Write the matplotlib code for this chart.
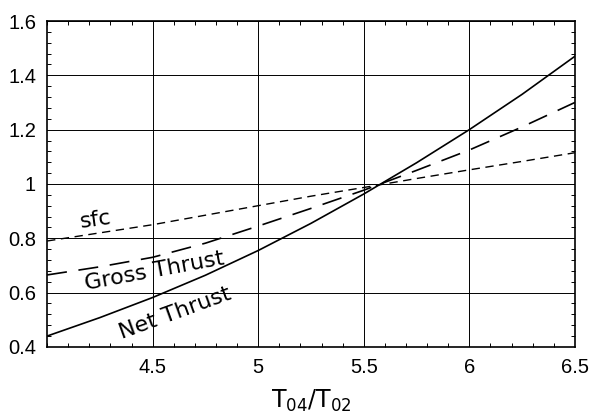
import numpy as np
import matplotlib
matplotlib.use('Agg')
import matplotlib.pyplot as plt
from matplotlib.ticker import MultipleLocator, FuncFormatter

# values
T_ratio = [4.0, 4.25, 4.5, 4.75, 5.0, 5.25, 5.5, 5.75, 6.0, 6.25, 6.5]
net_thrust = [0.44, 0.508, 0.582, 0.664, 0.755, 0.855, 0.963, 1.078, 1.2, 1.33, 1.47]
gross_thrust = [0.665, 0.695, 0.73, 0.782, 0.845, 0.91, 0.977, 1.05, 1.125, 1.21, 1.3]
sfc = [0.79, 0.82, 0.85, 0.885, 0.92, 0.955, 0.987, 1.02, 1.052, 1.083, 1.115]

xticks = [4.5, 5, 5.5, 6, 6.5]
yticks = [0.4, 0.6, 0.8, 1.0, 1.2, 1.4, 1.6]

plt.rcParams['font.family'] = ['Liberation Sans', 'DejaVu Sans']

fig = plt.figure(figsize=(5.89, 4.2), dpi=100)
ax = fig.add_axes([0.08, 0.174, 0.896, 0.776])

ax.plot(T_ratio, net_thrust, color='black', lw=1.2)
ax.plot(T_ratio, gross_thrust, color='black', lw=1.2, dashes=(12, 7))
ax.plot(T_ratio, sfc, color='black', lw=1.0, dashes=(6, 4))

ax.set_xlim(4.0, 6.5)
ax.set_ylim(0.4, 1.6)
ax.set_xticks(xticks)
ax.set_yticks(yticks)
ax.xaxis.set_minor_locator(MultipleLocator(0.1))
ax.yaxis.set_minor_locator(MultipleLocator(0.04))
fmt = FuncFormatter(lambda v, p: '%g' % round(v, 2))
ax.xaxis.set_major_formatter(fmt)
ax.yaxis.set_major_formatter(fmt)

ax.grid(True, which='major', color='black', lw=0.7)
ax.tick_params(which='both', direction='in', top=True, right=True, labelsize=14.5)
ax.tick_params(which='major', length=0, pad=8)
ax.tick_params(which='minor', length=3, width=0.7)
for s in ax.spines.values():
    s.set_linewidth(1.2)

ax.set_xlabel(r'$\mathregular{T_{04}/T_{02}}$', fontsize=17, labelpad=8,
              family='DejaVu Sans')

# curve labels, anchored at the middle of their baseline
lbl = dict(fontsize=16, family='DejaVu Sans', ha='center', va='baseline',
           rotation_mode='anchor')
ax.text(4.236, 0.846, 'sfc', rotation=8, **lbl)
ax.text(4.514, 0.656, 'Gross Thrust', rotation=10.5, **lbl)
ax.text(4.615, 0.502, 'Net Thrust', rotation=20, **lbl)

fig.savefig('out.png', dpi=100)
